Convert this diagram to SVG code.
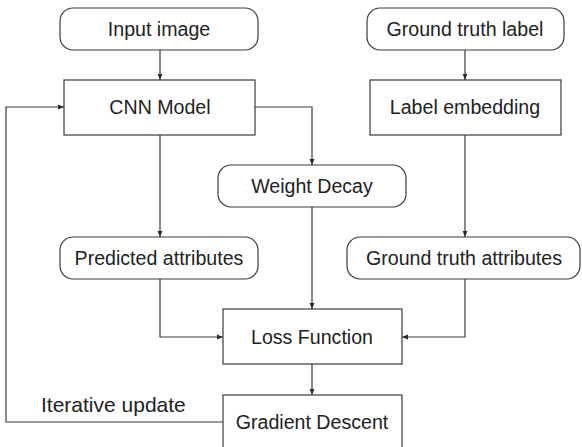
<svg xmlns="http://www.w3.org/2000/svg" width="582" height="447" viewBox="0 0 582 447">
  <style>
    .box { fill: #ffffff; stroke: #3a3a3a; stroke-width: 1.2; }
    .lbl { font-family: "Liberation Sans", Arial, sans-serif; font-size: 19.6px; fill: #222222; text-anchor: middle; dominant-baseline: central; }
    .edge { fill: none; stroke: #3a3a3a; stroke-width: 1.2; marker-end: url(#arrow); }
  </style>
  <defs>
    <marker id="arrow" viewBox="0 0 10 10" refX="10" refY="5" markerWidth="6" markerHeight="6" markerUnits="userSpaceOnUse" orient="auto">
      <path d="M0,1 L10,5 L0,9 Z" fill="#2a2a2a"/>
    </marker>
  </defs>

  <rect width="582" height="447" fill="#ffffff"/>

  <!-- connectors -->
  <g id="connectors">
    <line class="edge" x1="160" y1="50" x2="160" y2="80"/>
    <line class="edge" x1="465" y1="50" x2="465" y2="80"/>
    <polyline class="edge" points="255,107 312,107 312,165"/>
    <line class="edge" x1="160" y1="135" x2="160" y2="237"/>
    <line class="edge" x1="465" y1="135" x2="465" y2="237"/>
    <line class="edge" x1="312" y1="207" x2="312" y2="309"/>
    <polyline class="edge" points="160,279 160,337 223,337"/>
    <polyline class="edge" points="465,279 465,337 402,337"/>
    <line class="edge" x1="312" y1="364" x2="312" y2="395"/>
    <polyline class="edge" points="223,422 6,422 6,107 64,107"/>
    <text x="41" y="412" font-family="Liberation Sans, Arial, sans-serif" font-size="21" fill="#222222">Iterative update</text>
  </g>

  <g id="input-image">
    <rect class="box" x="60" y="8" width="198" height="42" rx="13"/>
    <text class="lbl" x="159" y="29">Input image</text>
  </g>
  <g id="ground-truth-label">
    <rect class="box" x="367" y="8" width="197" height="42" rx="13"/>
    <text class="lbl" x="465" y="29">Ground truth label</text>
  </g>
  <g id="cnn-model">
    <rect class="box" x="64" y="80" width="191" height="55"/>
    <text class="lbl" x="160" y="107">CNN Model</text>
  </g>
  <g id="label-embedding">
    <rect class="box" x="370" y="80" width="191" height="55"/>
    <text class="lbl" x="465" y="107">Label embedding</text>
  </g>
  <g id="weight-decay">
    <rect class="box" x="218" y="165" width="188" height="42" rx="13"/>
    <text class="lbl" x="312" y="186">Weight Decay</text>
  </g>
  <g id="predicted-attributes">
    <rect class="box" x="60" y="237" width="198" height="42" rx="13"/>
    <text class="lbl" x="159" y="258">Predicted attributes</text>
  </g>
  <g id="ground-truth-attributes">
    <rect class="box" x="347" y="237" width="233" height="42" rx="13"/>
    <text class="lbl" x="464" y="258">Ground truth attributes</text>
  </g>
  <g id="loss-function">
    <rect class="box" x="223" y="309" width="179" height="55"/>
    <text class="lbl" x="312" y="337">Loss Function</text>
  </g>
  <g id="gradient-descent">
    <rect class="box" x="223" y="395" width="179" height="60"/>
    <text class="lbl" x="312" y="422">Gradient Descent</text>
  </g>
</svg>
